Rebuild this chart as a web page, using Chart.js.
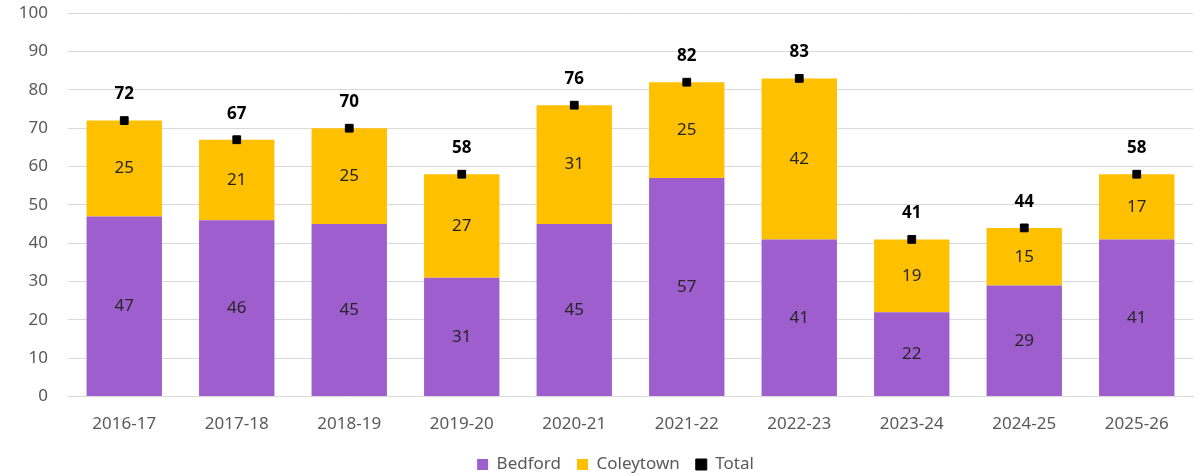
<!DOCTYPE html>
<html><head><meta charset="utf-8">
<script src="https://cdn.jsdelivr.net/npm/chart.js@4"></script>
<style>html,body{margin:0;padding:0;background:#fff;overflow:hidden}#wrap{position:relative;top:-17px;width:1203px;height:500px}</style>
</head><body><div id="wrap"><canvas id="c"></canvas></div>
<script>
const categories = ["2016-17","2017-18","2018-19","2019-20","2020-21","2021-22","2022-23","2023-24","2024-25","2025-26"];
const bedford = [47,46,45,31,45,57,41,22,29,41];
const coleytown = [25,21,25,27,31,25,42,19,15,17];
const total = [72,67,70,58,76,82,83,41,44,58];
const yTicks = [0,10,20,30,40,50,60,70,80,90,100];

const FONT = "'Noto Sans', sans-serif";
const labelPlugin = {
  id: 'vlabels',
  afterDatasetsDraw(chart) {
    const ctx = chart.ctx;
    ctx.save();
    ctx.textAlign = 'center';
    ctx.textBaseline = 'middle';
    chart.data.datasets.forEach((ds, di) => {
      const meta = chart.getDatasetMeta(di);
      meta.data.forEach((el, i) => {
        const v = ds.data[i];
        if (ds.type === 'line') {
          ctx.font = "bold 17px " + FONT;
          ctx.fillStyle = '#000';
          ctx.fillText(String(v), el.x, el.y - 26);
        } else {
          ctx.font = "17px " + FONT;
          ctx.fillStyle = '#262626';
          ctx.fillText(String(v), el.x, (el.y + el.base) / 2);
        }
      });
    });
    ctx.restore();
  }
};
const legendShift = {
  id: 'legendShift',
  afterLayout(chart) {
    if (chart.legend) { chart.legend.left += 19; chart.legend.right += 19; }
  }
};

new Chart(document.getElementById('c'), {
  data: {
    labels: categories,
    datasets: [
      { type: 'bar', label: 'Bedford', data: bedford, backgroundColor: '#9E5ECE', stack: 's', order: 1 },
      { type: 'bar', label: 'Coleytown', data: coleytown, backgroundColor: '#FFC000', stack: 's', order: 1 },
      { type: 'line', label: 'Total', data: total, showLine: false, pointStyle: 'rect', pointRadius: 5.5,
        pointBackgroundColor: '#000', pointBorderColor: '#000', backgroundColor: '#000', borderColor: '#000', order: -1 }
    ]
  },
  options: {
    responsive: true, maintainAspectRatio: false, animation: false,
    layout: { padding: { top: 0, right: 10, left: 0, bottom: 0 } },
    datasets: { bar: { categoryPercentage: 1, barPercentage: 0.67 } },
    scales: {
      x: {
        stacked: true,
        afterFit: s => { s.height -= 3; },
        grid: { display: false },
        border: { color: '#D9D9D9' },
        ticks: { color: '#595959', font: { family: FONT, size: 17 }, padding: 9 }
      },
      y: {
        stacked: true, min: 0, max: 100,
        afterBuildTicks: s => { s.ticks = yTicks.map(v => ({ value: v })); },
        afterFit: s => { s.width = 68; },
        grid: { color: '#D9D9D9', drawTicks: false },
        border: { display: false },
        ticks: { color: '#595959', font: { family: FONT, size: 17 }, padding: 20 }
      }
    },
    plugins: {
      tooltip: { enabled: false },
      legend: {
        position: 'bottom',
        labels: {
          usePointStyle: true, pointStyle: 'rect', boxWidth: 11, boxHeight: 11,
          color: '#595959', font: { family: FONT, size: 17 }, padding: 16,
          sort: (a, b) => a.datasetIndex - b.datasetIndex
        }
      }
    }
  },
  plugins: [labelPlugin, legendShift]
});
</script></body></html>
